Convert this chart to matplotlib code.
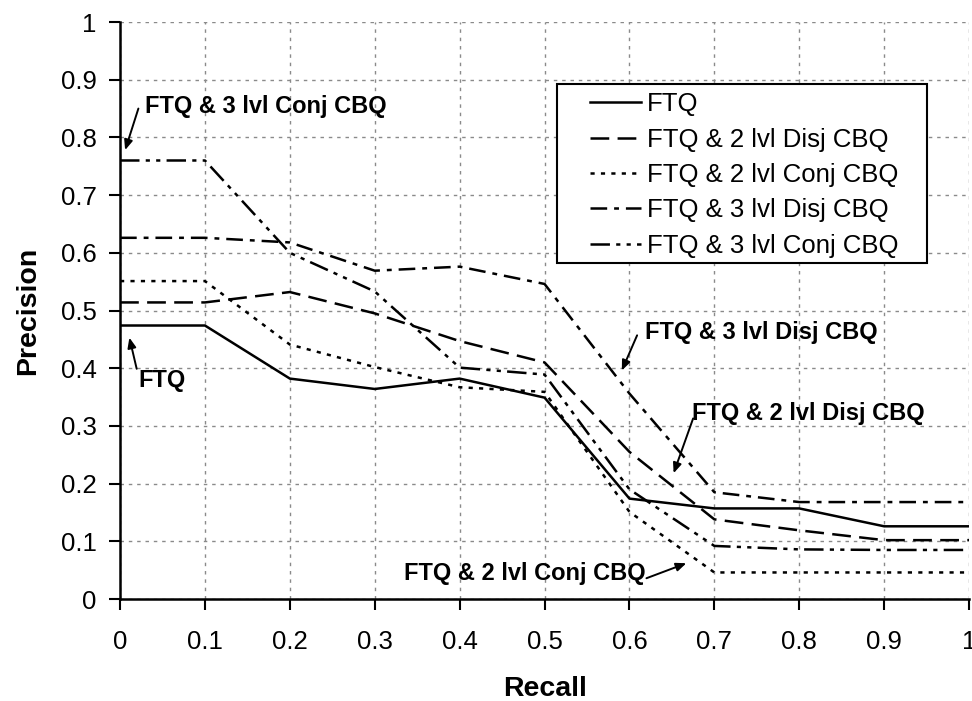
import matplotlib
matplotlib.use('Agg')
import matplotlib.pyplot as plt
import matplotlib.patches as patches

plt.rcParams['font.family'] = ['Liberation Sans', 'DejaVu Sans']
plt.rcParams['lines.scale_dashes'] = False

recall = [0, 0.1, 0.2, 0.3, 0.4, 0.5, 0.6, 0.7, 0.8, 0.9, 1.0]

ftq          = [0.474, 0.474, 0.382, 0.364, 0.382, 0.349, 0.174, 0.157, 0.157, 0.126, 0.126]
ftq2lvlDisj  = [0.514, 0.514, 0.532, 0.495, 0.447, 0.410, 0.255, 0.138, 0.119, 0.102, 0.102]
ftq2lvlConj  = [0.551, 0.551, 0.441, 0.402, 0.367, 0.359, 0.151, 0.046, 0.046, 0.046, 0.046]
ftq3lvlDisj  = [0.626, 0.626, 0.618, 0.569, 0.576, 0.546, 0.356, 0.185, 0.168, 0.168, 0.168]
ftq3lvlConj  = [0.760, 0.760, 0.600, 0.533, 0.401, 0.389, 0.190, 0.092, 0.086, 0.085, 0.085]

seriesNames = ['FTQ', 'FTQ & 2 lvl Disj CBQ', 'FTQ & 2 lvl Conj CBQ',
               'FTQ & 3 lvl Disj CBQ', 'FTQ & 3 lvl Conj CBQ']

xTicks = [0, 0.1, 0.2, 0.3, 0.4, 0.5, 0.6, 0.7, 0.8, 0.9, 1]
xTickLabels = ['0', '0.1', '0.2', '0.3', '0.4', '0.5', '0.6', '0.7', '0.8', '0.9', '1']
yTicks = [0, 0.1, 0.2, 0.3, 0.4, 0.5, 0.6, 0.7, 0.8, 0.9, 1]
yTickLabels = ['0', '0.1', '0.2', '0.3', '0.4', '0.5', '0.6', '0.7', '0.8', '0.9', '1']

fig = plt.figure(figsize=(9.72, 7.01), dpi=100)
ax = fig.add_axes([0.1235, 0.1455, 0.8735, 0.8231])

# line styles (points, not scaled by width)
styles = [
    '-',
    (0, (13.5, 6)),
    (0, (3, 4.5)),
    (0, (12, 5, 3.5, 5)),
    (0, (14, 4.5, 3, 4.5, 3, 4.5)),
]
allSeries = [ftq, ftq2lvlDisj, ftq2lvlConj, ftq3lvlDisj, ftq3lvlConj]
for vals, name, ls in zip(allSeries, seriesNames, styles):
    ax.plot(recall, vals, color='black', linestyle=ls, linewidth=1.8, label=name)

ax.set_xlim(0, 1)
ax.set_ylim(0, 1)
ax.set_xticks(xTicks)
ax.set_xticklabels(xTickLabels)
ax.set_yticks(yTicks)
ax.set_yticklabels(yTickLabels)
ax.tick_params(axis='both', labelsize=18.5, length=8, width=1.5, direction='out', colors='black')
ax.tick_params(axis='x', pad=14)
ax.tick_params(axis='y', pad=9)

for side in ['top', 'right']:
    ax.spines[side].set_visible(False)
for side in ['left', 'bottom']:
    ax.spines[side].set_linewidth(1.8)

ax.grid(True, color='#8a8a8a', linestyle=(0, (2.5, 3.5)), linewidth=1.0)
ax.set_axisbelow(True)

ax.set_xlabel('Recall', fontsize=20.5, fontweight='bold', labelpad=16)
ax.set_ylabel('Precision', fontsize=20.5, fontweight='bold', labelpad=14)

# legend box drawn by hand so the padding matches
box = patches.Rectangle((0.515, 0.582), 0.435, 0.3105, transform=ax.transAxes,
                        facecolor='white', edgecolor='black', linewidth=1.5, zorder=4)
ax.add_patch(box)
leg = ax.legend(loc='upper left', bbox_to_anchor=(0.5536, 0.878), borderaxespad=0,
                fontsize=18.5, handlelength=1.98, handletextpad=0.25, labelspacing=0.44,
                borderpad=0, frameon=False)
leg.set_zorder(5)

# annotations
annFont = dict(fontsize=17, fontweight='bold', color='black')
arrowStyle = dict(arrowstyle='-|>,head_length=0.6,head_width=0.25', color='black', lw=1.4,
                  shrinkA=0, shrinkB=0)

ax.text(0.029, 0.854, 'FTQ & 3 lvl Conj CBQ', ha='left', va='center', **annFont)
ax.annotate('', xy=(0.006, 0.778), xytext=(0.0216, 0.85), arrowprops=arrowStyle)

ax.text(0.0215, 0.379, 'FTQ', ha='left', va='center', **annFont)
ax.annotate('', xy=(0.011, 0.453), xytext=(0.0196, 0.399), arrowprops=arrowStyle)

ax.text(0.618, 0.462, 'FTQ & 3 lvl Disj CBQ', ha='left', va='center', **annFont)
ax.annotate('', xy=(0.591, 0.396), xytext=(0.609, 0.457), arrowprops=arrowStyle)

ax.text(0.674, 0.322, 'FTQ & 2 lvl Disj CBQ', ha='left', va='center', **annFont)
ax.annotate('', xy=(0.652, 0.218), xytext=(0.675, 0.313), arrowprops=arrowStyle)

ax.text(0.334, 0.0445, 'FTQ & 2 lvl Conj CBQ', ha='left', va='center', **annFont)
ax.annotate('', xy=(0.667, 0.062), xytext=(0.62, 0.036), arrowprops=arrowStyle)

fig.savefig('out.png', dpi=100)
